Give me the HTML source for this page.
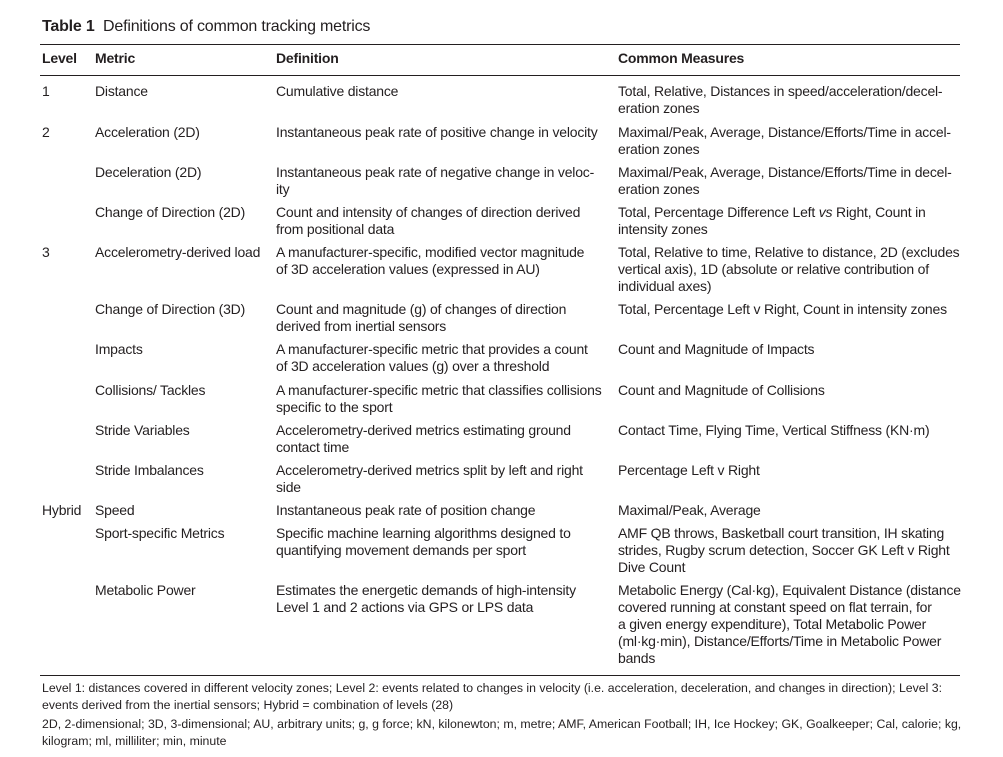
<!DOCTYPE html>
<html><head><meta charset="utf-8"><style>
body{margin:0;width:1003px;height:757px;background:#fff;position:relative;font-family:"Liberation Sans",sans-serif;color:#231f20;overflow:hidden}
div.t{position:absolute;font-size:14px;line-height:17px;white-space:nowrap;letter-spacing:-0.2px}
div.f{position:absolute;font-size:12.3px;line-height:17px;white-space:nowrap;left:42px}
.r{position:absolute;left:40px;width:920px;height:1px;background:#231f20}
b{font-weight:bold}
</style></head><body>
<div class="t" style="left:42px;top:17px;font-size:16px;line-height:20px"><b>Table 1</b>&nbsp; Definitions of common tracking metrics</div>
<div class="r" style="top:44px"></div>
<div class="t" style="left:42px;top:50px"><b>Level</b></div>
<div class="t" style="left:95px;top:50px"><b>Metric</b></div>
<div class="t" style="left:276px;top:50px"><b>Definition</b></div>
<div class="t" style="left:618px;top:50px"><b>Common Measures</b></div>
<div class="r" style="top:75px"></div>

<div class="t" style="left:42px;top:83px">1</div>
<div class="t" style="left:95px;top:83px">Distance</div>
<div class="t" style="left:276px;top:83px">Cumulative distance</div>
<div class="t" style="left:618px;top:83px">Total, Relative, Distances in speed/acceleration/decel-<br>eration zones</div>

<div class="t" style="left:42px;top:124px">2</div>
<div class="t" style="left:95px;top:124px">Acceleration (2D)</div>
<div class="t" style="left:276px;top:124px">Instantaneous peak rate of positive change in velocity</div>
<div class="t" style="left:618px;top:124px">Maximal/Peak, Average, Distance/Efforts/Time in accel-<br>eration zones</div>

<div class="t" style="left:95px;top:164px">Deceleration (2D)</div>
<div class="t" style="left:276px;top:164px">Instantaneous peak rate of negative change in veloc-<br>ity</div>
<div class="t" style="left:618px;top:164px">Maximal/Peak, Average, Distance/Efforts/Time in decel-<br>eration zones</div>

<div class="t" style="left:95px;top:204px">Change of Direction (2D)</div>
<div class="t" style="left:276px;top:204px">Count and intensity of changes of direction derived<br>from positional data</div>
<div class="t" style="left:618px;top:204px">Total, Percentage Difference Left <i>vs</i> Right, Count in<br>intensity zones</div>

<div class="t" style="left:42px;top:244px">3</div>
<div class="t" style="left:95px;top:244px">Accelerometry-derived load</div>
<div class="t" style="left:276px;top:244px">A manufacturer-specific, modified vector magnitude<br>of 3D acceleration values (expressed in AU)</div>
<div class="t" style="left:618px;top:244px">Total, Relative to time, Relative to distance, 2D (excludes<br>vertical axis), 1D (absolute or relative contribution of<br>individual axes)</div>

<div class="t" style="left:95px;top:301px">Change of Direction (3D)</div>
<div class="t" style="left:276px;top:301px">Count and magnitude (g) of changes of direction<br>derived from inertial sensors</div>
<div class="t" style="left:618px;top:301px">Total, Percentage Left v Right, Count in intensity zones</div>

<div class="t" style="left:95px;top:341px">Impacts</div>
<div class="t" style="left:276px;top:341px">A manufacturer-specific metric that provides a count<br>of 3D acceleration values (g) over a threshold</div>
<div class="t" style="left:618px;top:341px">Count and Magnitude of Impacts</div>

<div class="t" style="left:95px;top:382px">Collisions/ Tackles</div>
<div class="t" style="left:276px;top:382px">A manufacturer-specific metric that classifies collisions<br>specific to the sport</div>
<div class="t" style="left:618px;top:382px">Count and Magnitude of Collisions</div>

<div class="t" style="left:95px;top:422px">Stride Variables</div>
<div class="t" style="left:276px;top:422px">Accelerometry-derived metrics estimating ground<br>contact time</div>
<div class="t" style="left:618px;top:422px">Contact Time, Flying Time, Vertical Stiffness (KN·m)</div>

<div class="t" style="left:95px;top:462px">Stride Imbalances</div>
<div class="t" style="left:276px;top:462px">Accelerometry-derived metrics split by left and right<br>side</div>
<div class="t" style="left:618px;top:462px">Percentage Left v Right</div>

<div class="t" style="left:42px;top:502px">Hybrid</div>
<div class="t" style="left:95px;top:502px">Speed</div>
<div class="t" style="left:276px;top:502px">Instantaneous peak rate of position change</div>
<div class="t" style="left:618px;top:502px">Maximal/Peak, Average</div>

<div class="t" style="left:95px;top:525px">Sport-specific Metrics</div>
<div class="t" style="left:276px;top:525px">Specific machine learning algorithms designed to<br>quantifying movement demands per sport</div>
<div class="t" style="left:618px;top:525px">AMF QB throws, Basketball court transition, IH skating<br>strides, Rugby scrum detection, Soccer GK Left v Right<br>Dive Count</div>

<div class="t" style="left:95px;top:582px">Metabolic Power</div>
<div class="t" style="left:276px;top:582px">Estimates the energetic demands of high-intensity<br>Level 1 and 2 actions via GPS or LPS data</div>
<div class="t" style="left:618px;top:582px">Metabolic Energy (Cal·kg), Equivalent Distance (distance<br>covered running at constant speed on flat terrain, for<br>a given energy expenditure), Total Metabolic Power<br>(ml·kg·min), Distance/Efforts/Time in Metabolic Power<br>bands</div>

<div class="r" style="top:675px"></div>
<div class="f" style="top:680px">Level 1: distances covered in different velocity zones; Level 2: events related to changes in velocity (i.e. acceleration, deceleration, and changes in direction); Level 3:<br>events derived from the inertial sensors; Hybrid = combination of levels (28)</div>
<div class="f" style="top:716px">2D, 2-dimensional; 3D, 3-dimensional; AU, arbitrary units; g, g force; kN, kilonewton; m, metre; AMF, American Football; IH, Ice Hockey; GK, Goalkeeper; Cal, calorie; kg,<br>kilogram; ml, milliliter; min, minute</div>
</body></html>
